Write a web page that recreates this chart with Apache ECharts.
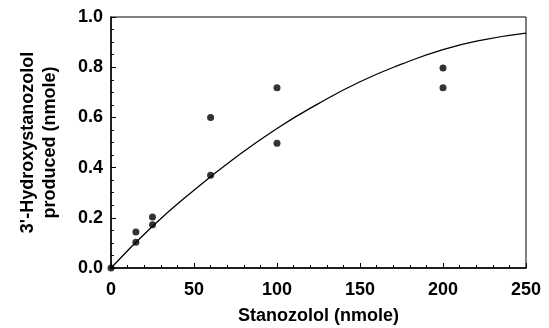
<!DOCTYPE html>
<html><head><meta charset="utf-8">
<script src="https://cdn.jsdelivr.net/npm/echarts@6/dist/echarts.min.js"></script>
<style>html,body{margin:0;padding:0;background:#fff}#c{width:549px;height:328px}</style>
</head><body><div id="c"></div>
<script>
var pointX = [0, 15, 15, 25, 25, 60, 60, 100, 100, 200, 200];
var pointY = [0, 0.143, 0.103, 0.203, 0.172, 0.600, 0.370, 0.718, 0.497, 0.797, 0.718];
var curveX = [0, 25, 50, 75, 100, 125, 150, 175, 200, 225, 250];
var curveY = [0, 0.166, 0.310, 0.440, 0.556, 0.655, 0.742, 0.812, 0.870, 0.910, 0.936];
var xTicks = [0, 50, 100, 150, 200, 250];
var yTicks = [0.0, 0.2, 0.4, 0.6, 0.8, 1.0];

var font = 'Liberation Sans, Arial, sans-serif';
var chart = echarts.init(document.getElementById('c'));
chart.setOption({
  animation: false,
  grid: { left: 111, right: 23, top: 17, bottom: 60, show: true, borderColor: '#000', borderWidth: 1,
          containLabel: false, outerBoundsMode: 'none' },
  xAxis: {
    type: 'value', min: xTicks[0], max: xTicks[xTicks.length - 1], interval: 50,
    axisLine: { show: true, lineStyle: { color: '#000', width: 1.5 } },
    axisTick: { show: true, inside: true, length: 5, lineStyle: { color: '#000' } },
    minorTick: { show: true, splitNumber: 5, length: 3, lineStyle: { color: '#000' } },
    splitLine: { show: false },
    axisLabel: { color: '#000', fontFamily: font, fontWeight: 'bold', fontSize: 18, margin: 13 },
    name: 'Stanozolol (nmole)', nameLocation: 'middle', nameGap: 39,
    nameTextStyle: { color: '#000', fontFamily: font, fontWeight: 'bold', fontSize: 18 }
  },
  yAxis: {
    type: 'value', min: yTicks[0], max: yTicks[yTicks.length - 1], interval: 0.2,
    axisLine: { show: true, lineStyle: { color: '#000', width: 1.5 } },
    axisTick: { show: true, inside: true, length: 5, lineStyle: { color: '#000' } },
    minorTick: { show: true, splitNumber: 4, length: 3, lineStyle: { color: '#000' } },
    splitLine: { show: false },
    axisLabel: { color: '#000', fontFamily: font, fontWeight: 'bold', fontSize: 18, margin: 8,
      formatter: function (v) { return v.toFixed(1); } },
    name: "3'-Hydroxystanozolol\nproduced (nmole)", nameLocation: 'middle', nameGap: 50,
    nameTextStyle: { color: '#000', fontFamily: font, fontWeight: 'bold', fontSize: 18, lineHeight: 22 }
  },
  series: [
    { type: 'line', data: curveX.map(function (x, i) { return [x, curveY[i]]; }),
      smooth: true, showSymbol: false, lineStyle: { color: '#000', width: 1.3 } },
    { type: 'scatter', data: pointX.map(function (x, i) { return [x, pointY[i]]; }),
      symbolSize: 7, itemStyle: { color: '#000' } }
  ]
});
</script></body></html>
